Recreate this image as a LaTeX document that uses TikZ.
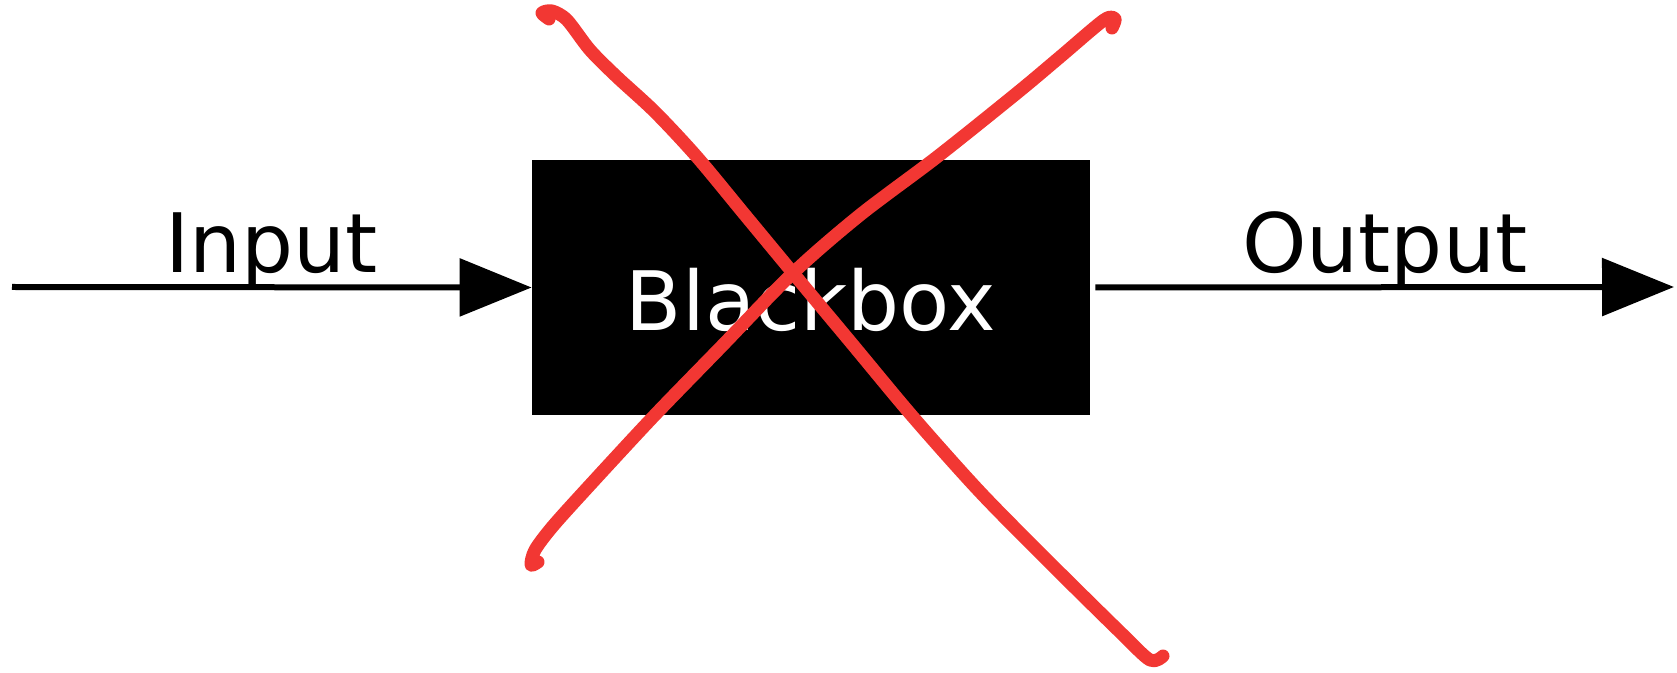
\documentclass[tikz,border=0pt]{standalone}
\usepackage{fontspec}
\setmainfont{DejaVu Sans}
\usepackage{tikz}
\usetikzlibrary{arrows.meta}
\definecolor{markred}{HTML}{F23733}

\begin{document}
\begin{tikzpicture}[x=0.5pt, y=-0.5pt,
  flow/.style={line width=3pt, -{Triangle[length=36pt, width=28.5pt]}},
  lbl/.style={anchor=base, yshift=7.5pt, font=\fontsize{41}{49}\selectfont},
  boxnode/.style={fill=black, text=white, inner sep=0pt, minimum width=279pt,
    minimum height=127.5pt, text height=43.5pt, text depth=0pt,
    font=\fontsize{41}{49}\selectfont},
  crossmark/.style={markred, line width=6.5pt, line cap=round, line join=round}]
  \useasboundingbox (0,0) rectangle (1677,673);
  \coordinate (in) at (12,287);
  \coordinate (out) at (1674,287);
  \node[boxnode] (box) at (811,287.5) {Blackbox};
  \draw[flow] (in) -- (box.west) node[midway, lbl]{Input};
  \draw[flow] ([xshift=2.5pt]box.east) -- (out) node[midway, lbl]{Output};
  % hand drawn cross
  \draw[crossmark] plot[smooth, tension=0.5] coordinates {(549,19) (542,13) (552,11) (567,20)
    (590,50) (617,77) (655,112) (697,157) (745,215) (793,273) (853,345) (913,417) (980,492)
    (1050,563) (1120,632) (1150,660) (1163,656)};
  \draw[crossmark] plot[smooth, tension=0.5] coordinates {(1112,28) (1115,19) (1104,20)
    (1060,57) (1017,93) (937,157) (860,215) (793,273) (720,348) (653,417) (590,485)
    (553,526) (535,550) (531,565) (538,562)};
\end{tikzpicture}
\end{document}
